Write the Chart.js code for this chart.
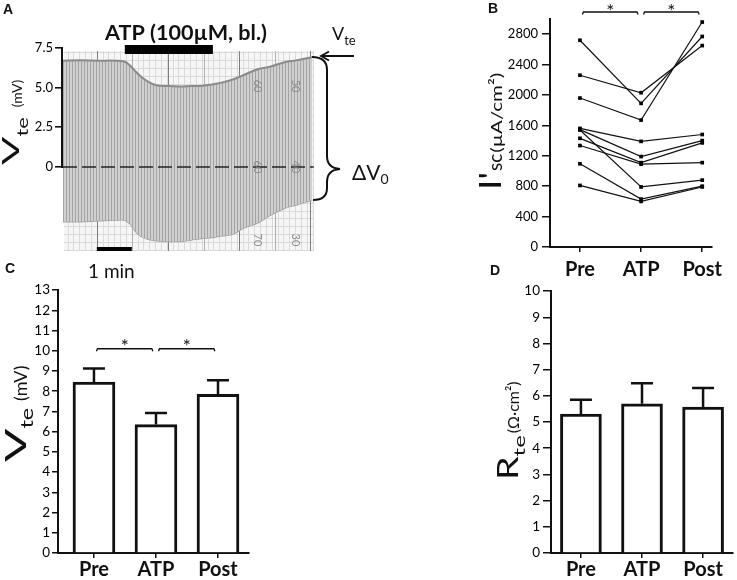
<!DOCTYPE html>
<html>
<head>
<meta charset="utf-8">
<title>ATP effect on Vte, I'sc and Rte</title>
<script src="https://cdn.jsdelivr.net/npm/chart.js@4.4.1/dist/chart.umd.min.js"></script>
<style>
    html, body { margin: 0; padding: 0; background: #fff; }
    #page { position: relative; width: 737px; height: 580px; overflow: hidden; }
    #page canvas { position: absolute; }
</style>
</head>
<body>
<div id="page">
    <canvas id="chartA" width="400" height="280" style="left:0;top:0"></canvas>
    <canvas id="chartB" width="337" height="280" style="left:400px;top:0"></canvas>
    <canvas id="chartC" width="370" height="300" style="left:0;top:280px"></canvas>
    <canvas id="chartD" width="337" height="300" style="left:400px;top:280px"></canvas>
</div>
<script>
// ---- data ----
// A: chart recorder trace, upper / lower envelope (time in s, mV)
const traceTime   = [0, 30, 60, 90, 105, 115, 125, 135, 145, 160, 180, 200, 220, 240, 255, 270, 290, 310, 335, 355, 380, 400, 427];
const traceTop    = [6.7, 6.72, 6.7, 6.7, 6.65, 6.4, 6.0, 5.65, 5.4, 5.15, 5.1, 5.08, 5.1, 5.12, 5.2, 5.3, 5.5, 5.8, 6.18, 6.32, 6.6, 6.72, 6.92];
const traceBottom = [-3.45, -3.45, -3.4, -3.35, -3.35, -3.6, -4.1, -4.4, -4.55, -4.65, -4.7, -4.7, -4.6, -4.5, -4.45, -4.35, -4.25, -3.85, -3.5, -3.05, -2.6, -2.4, -2.1];
const vteTicksA   = [0, 2.5, 5.0, 7.5];
const atpWindow   = [106, 257];   // s, black bar
const oneMinute   = [58, 118];    // s, scale bar

// B-D: groups
const groupLabels = ['Pre', 'ATP', 'Post'];
const sigPairs    = [[0, 1], [1, 2]];

// B: paired I'sc per tissue (µA/cm²)
const iscPre  = [2720, 2260, 1960, 1560, 1545, 1540, 1430, 1335, 1095, 810];
const iscAtp  = [1890, 2030, 1670, 1390, 1190, 790, 1110, 1090, 630, 600];
const iscPost = [2770, 2650, 2960, 1480, 1400, 880, 1370, 1110, 800, 790];

// C: Vte mean + SEM (mV)
const vteMean = [8.45, 6.35, 7.85];
const vteSem  = [0.67, 0.57, 0.69];

// D: Rte mean + SEM (Ω·cm²)
const rteMean = [5.3, 5.7, 5.57];
const rteSem  = [0.55, 0.78, 0.73];

const FONT = 'Lato, "Noto Sans", sans-serif';
const LETTER_FONT = 'bold 14px "Liberation Sans", Arial, sans-serif';
const INK = '#111';
Chart.defaults.font.family = FONT;
Chart.defaults.color = INK;

// ---- helpers ----
function vertTitle(ctx, x, y, parts) {
    // text reads bottom to top, baseline at x, starting at y
    ctx.save();
    ctx.translate(x, y);
    ctx.rotate(-Math.PI / 2);
    ctx.fillStyle = INK;
    ctx.textBaseline = 'alphabetic';
    ctx.textAlign = 'left';
    let pos = 0;
    parts.forEach(p => {
        ctx.font = p.font;
        const sx = p.sx || 1;
        const w = ctx.measureText(p.text).width;
        ctx.save();
        ctx.translate(pos, p.dy || 0);
        ctx.scale(sx, 1);
        ctx.fillText(p.text, 0, 0);
        ctx.restore();
        pos += w * sx + (p.gap || 0);
    });
    ctx.restore();
}

function label(ctx, text, x, y, font, align) {
    ctx.save();
    ctx.font = font;
    ctx.fillStyle = INK;
    ctx.textAlign = align || 'left';
    ctx.textBaseline = 'alphabetic';
    ctx.fillText(text, x, y);
    const w = ctx.measureText(text).width;
    ctx.restore();
    return w;
}

function star(ctx, cx, cy) {
    ctx.save();
    ctx.font = '19px ' + FONT;
    ctx.fillStyle = INK;
    ctx.textAlign = 'center';
    const m = ctx.measureText('*');
    ctx.fillText('*', cx, cy + (m.actualBoundingBoxAscent - m.actualBoundingBoxDescent) / 2);
    ctx.restore();
}

function brackets(ctx, xScale, yPix, starGap) {
    ctx.save();
    ctx.strokeStyle = INK;
    ctx.lineWidth = 1.3;
    sigPairs.forEach(([a, b]) => {
        const x1 = xScale.getPixelForValue(a + 0.04);
        const x2 = xScale.getPixelForValue(b - 0.05);
        ctx.beginPath();
        ctx.moveTo(x1, yPix + 2.5);
        ctx.lineTo(x1 + 1, yPix);
        ctx.lineTo(x2 - 1, yPix);
        ctx.lineTo(x2, yPix + 2.5);
        ctx.stroke();
        star(ctx, (x1 + x2) / 2, yPix - starGap);
    });
    ctx.restore();
}

function groupTicks(scale) {
    scale.ticks = groupLabels.map((_, i) => ({ value: i }));
}

// ---- panel A ----
const canvasA = document.getElementById('chartA');
const stripeTile = document.createElement('canvas');
stripeTile.width = 3; stripeTile.height = 4;
const tg = stripeTile.getContext('2d');
tg.fillStyle = '#d0d0d0'; tg.fillRect(0, 0, 3, 4);
tg.fillStyle = '#a4a4a4'; tg.fillRect(0, 0, 1, 4);
const stripes = canvasA.getContext('2d').createPattern(stripeTile, 'repeat');

const paperPlugin = {
    id: 'paper',
    beforeDatasetsDraw(chart) {
        const { ctx, chartArea: a, scales: { x, y } } = chart;
        const left = a.left + 1, right = x.getPixelForValue(430);
        const top = y.getPixelForValue(7.3), bottom = a.bottom;
        ctx.save();
        ctx.fillStyle = '#f6f6f6';
        ctx.fillRect(left, top, right - left, bottom - top);
        ctx.strokeStyle = '#dadada';
        ctx.lineWidth = 1;
        ctx.beginPath();
        for (let v = -5.25; v <= 7.3; v += 0.5) {
            const py = Math.round(y.getPixelForValue(v)) + 0.5;
            ctx.moveTo(left, py); ctx.lineTo(right, py);
        }
        for (let t = 8; t < 430; t += 10) {
            const px = Math.round(x.getPixelForValue(t)) + 0.5;
            ctx.moveTo(px, top); ctx.lineTo(px, bottom);
        }
        ctx.stroke();
        for (let k = 0; k < 7; k++) {
            const px = Math.round(x.getPixelForValue(58 + 61 * k)) + 0.5;
            ctx.strokeStyle = k % 2 === 0 ? '#7c7c7c' : '#b0b0b0';
            ctx.beginPath(); ctx.moveTo(px, top); ctx.lineTo(px, bottom); ctx.stroke();
        }
        ctx.restore();
    }
};

const recorderPlugin = {
    id: 'recorder',
    afterDatasetsDraw(chart) {
        const { ctx, chartArea: a, scales: { x, y } } = chart;
        const y0 = y.getPixelForValue(0);
        const right = x.getPixelForValue(430);
        ctx.save();

        // zero line
        ctx.strokeStyle = '#222';
        ctx.lineWidth = 1.5;
        ctx.setLineDash([14, 5]);
        ctx.beginPath(); ctx.moveTo(a.left, y0); ctx.lineTo(right, y0); ctx.stroke();
        ctx.setLineDash([]);

        // numbers printed on the recorder paper
        ctx.fillStyle = '#8a8a8a';
        ctx.font = '11px ' + FONT;
        ctx.textAlign = 'center';
        ctx.textBaseline = 'middle';
        [['60', 333, 5.1], ['50', 398, 5.1], ['60', 333, 0], ['40', 398, 0], ['70', 333, -4.6], ['30', 398, -4.6]].forEach(([t, tv, vv]) => {
            ctx.save();
            ctx.translate(x.getPixelForValue(tv), y.getPixelForValue(vv));
            ctx.rotate(Math.PI / 2);
            ctx.fillText(t, 0, 0);
            ctx.restore();
        });

        // y axis line from 0 to 7.5 only
        ctx.strokeStyle = INK;
        ctx.lineWidth = 2;
        ctx.beginPath();
        ctx.moveTo(a.left - 1, y.getPixelForValue(7.5));
        ctx.lineTo(a.left - 1, y0 + 1);
        ctx.stroke();

        // ATP application bar + label
        const ax1 = x.getPixelForValue(atpWindow[0]), ax2 = x.getPixelForValue(atpWindow[1]);
        ctx.fillStyle = '#000';
        ctx.fillRect(ax1, 45, ax2 - ax1, 9);
        ctx.font = 'bold 21px ' + FONT;
        const txt = 'ATP (100\u00b5M, bl.)';
        const sx = 162 / ctx.measureText(txt).width;
        ctx.save();
        ctx.translate(186, 40);
        ctx.scale(sx, 1);
        ctx.fillStyle = INK;
        ctx.textAlign = 'center';
        ctx.textBaseline = 'alphabetic';
        ctx.fillText(txt, 0, 0);
        ctx.restore();

        // 1 min scale bar
        const sx1 = x.getPixelForValue(oneMinute[0]), sx2 = x.getPixelForValue(oneMinute[1]);
        ctx.fillStyle = '#000';
        ctx.fillRect(sx1, 247, sx2 - sx1, 4);
        label(ctx, '1 min', 88, 278, '19px ' + FONT);

        // Vte arrow
        const vw = label(ctx, 'V', 332, 40, '18px ' + FONT);
        label(ctx, 'te', 332 + vw, 45, '13px ' + FONT);
        ctx.strokeStyle = INK;
        ctx.lineWidth = 1.8;
        ctx.beginPath();
        ctx.moveTo(354, 56); ctx.lineTo(321, 56);
        ctx.moveTo(329, 51.5); ctx.lineTo(321, 56); ctx.lineTo(329, 60.5);
        ctx.stroke();

        // brace for delta V0
        ctx.lineWidth = 2;
        ctx.beginPath();
        ctx.moveTo(312, 57);
        ctx.quadraticCurveTo(327, 57, 327, 70);
        ctx.lineTo(327, 156);
        ctx.quadraticCurveTo(327, 168, 340, 169);
        ctx.quadraticCurveTo(327, 170, 327, 182);
        ctx.lineTo(327, 188);
        ctx.quadraticCurveTo(327, 200, 313, 200);
        ctx.stroke();
        const dw = label(ctx, '\u0394V', 352, 180, '21px ' + FONT);
        label(ctx, '0', 352 + dw, 184, '14px ' + FONT);

        // axis title + panel letters
        vertTitle(ctx, 19, 165, [
            { text: 'V', font: '24px ' + FONT, sx: 1.75 },
            { text: 'te', font: '15px ' + FONT, dy: 9, sx: 1.45, gap: 10 },
            { text: '(mV)', font: '14px ' + FONT, dy: 3 }
        ]);
        label(ctx, 'A', 3, 14, LETTER_FONT);
        label(ctx, 'C', 5, 273, LETTER_FONT);
        ctx.restore();
    }
};

new Chart(canvasA, {
    type: 'line',
    data: {
        datasets: [{
            data: traceTime.map((t, i) => ({ x: t, y: traceTop[i] })),
            borderColor: '#8a8a8a',
            borderWidth: 2,
            backgroundColor: stripes,
            fill: '+1',
            pointRadius: 0,
            tension: 0.35
        }, {
            data: traceTime.map((t, i) => ({ x: t, y: traceBottom[i] })),
            borderColor: '#a2a2a2',
            borderWidth: 1.5,
            fill: false,
            pointRadius: 0,
            tension: 0.35
        }]
    },
    options: {
        responsive: false,
        animation: false,
        layout: { padding: { top: 48, right: 88, bottom: 29, left: 0 } },
        plugins: { legend: { display: false }, tooltip: { enabled: false } },
        scales: {
            x: { type: 'linear', min: 0, max: 427, display: false },
            y: {
                min: -5.3,
                max: 7.5,
                afterBuildTicks: s => { s.ticks = vteTicksA.map(v => ({ value: v })); },
                afterFit: s => { s.width = 63; },
                ticks: { callback: v => (v === 0 ? '0' : v.toFixed(1)), font: { size: 13 }, color: '#000', padding: 2 },
                grid: { drawOnChartArea: false, tickLength: 8, color: INK, lineWidth: 1.6 },
                border: { display: false }
            }
        }
    },
    plugins: [paperPlugin, recorderPlugin]
});

// ---- panel B ----
new Chart(document.getElementById('chartB'), {
    type: 'line',
    data: {
        datasets: iscPre.map((p, i) => ({
            data: [{ x: 0, y: p }, { x: 1, y: iscAtp[i] }, { x: 2, y: iscPost[i] }],
            borderColor: '#111',
            borderWidth: 1.2,
            pointStyle: 'rect',
            pointRadius: 2.6,
            pointBackgroundColor: '#000',
            pointBorderWidth: 0,
            tension: 0,
            clip: 8
        }))
    },
    options: {
        responsive: false,
        animation: false,
        layout: { padding: { top: 19, right: 25, bottom: 0, left: 0 } },
        plugins: { legend: { display: false }, tooltip: { enabled: false } },
        scales: {
            x: {
                type: 'linear', min: -0.49, max: 2.16, offset: false,
                afterBuildTicks: groupTicks,
                afterFit: s => { s.height = 33; },
                ticks: { callback: v => groupLabels[v], font: { size: 20, weight: 'bold' }, color: INK, padding: 6, maxRotation: 0, autoSkip: false },
                grid: { drawOnChartArea: false, tickLength: 5, color: INK, lineWidth: 1.5 },
                border: { color: INK, width: 2 }
            },
            y: {
                min: 0, max: 3000,
                afterBuildTicks: s => { s.ticks = s.ticks.filter(t => t.value <= 2800); },
                afterFit: s => { s.width = 150; },
                ticks: { stepSize: 400, callback: v => String(v), font: { size: 13 }, color: '#000', padding: 4 },
                grid: { drawOnChartArea: false, tickLength: 8, color: INK, lineWidth: 1.5 },
                border: { color: INK, width: 2 }
            }
        }
    },
    plugins: [{
        id: 'decorB',
        afterDraw(chart) {
            const { ctx, chartArea: a, scales: { x } } = chart;
            brackets(ctx, x, a.top - 7, 5);
            vertTitle(ctx, 101, 190, [
                { text: "I'", font: '31px ' + FONT, sx: 1.2, gap: 1 },
                { text: 'sc', font: '19px ' + FONT, dy: 1, gap: 1 },
                { text: '(\u00b5A/cm\u00b2)', font: '16px ' + FONT, dy: 1, sx: 1.28 }
            ]);
            label(ctx, 'B', 88, 13, LETTER_FONT);
            label(ctx, 'D', 90, 275, LETTER_FONT);
        }
    }]
});

// ---- panels C and D: bar + SEM ----
const errorBarPlugin = {
    id: 'errorBars',
    afterDatasetsDraw(chart, args, opts) {
        const { ctx } = chart;
        const y = chart.scales.y;
        const meta = chart.getDatasetMeta(0);
        ctx.save();
        ctx.strokeStyle = INK;
        ctx.lineWidth = 2.5;
        meta.data.forEach((bar, i) => {
            const top = y.getPixelForValue(opts.mean[i] + opts.err[i]);
            ctx.beginPath();
            ctx.moveTo(bar.x, bar.y);
            ctx.lineTo(bar.x, top);
            ctx.moveTo(bar.x - opts.cap, top);
            ctx.lineTo(bar.x + opts.cap, top);
            ctx.stroke();
        });
        ctx.restore();
    }
};

function barChart(id, mean, err, cfg) {
    return new Chart(document.getElementById(id), {
        type: 'bar',
        data: {
            datasets: [{
                data: mean.map((v, i) => ({ x: i, y: v })),
                backgroundColor: '#fff',
                borderColor: INK,
                borderWidth: 3,
                barThickness: cfg.barWidth
            }]
        },
        options: {
            responsive: false,
            animation: false,
            layout: { padding: { top: cfg.top, right: cfg.right, bottom: 0, left: 0 } },
            plugins: {
                legend: { display: false },
                tooltip: { enabled: false },
                errorBars: { mean: mean, err: err, cap: 11 }
            },
            scales: {
                x: {
                    type: 'linear', min: cfg.xMin, max: cfg.xMax, offset: false,
                    afterBuildTicks: groupTicks,
                    afterFit: s => { s.height = cfg.xHeight; },
                    ticks: { callback: v => groupLabels[v], font: { size: 20, weight: 'bold' }, color: INK, padding: 0, maxRotation: 0, autoSkip: false },
                    grid: { drawOnChartArea: false, offset: false, tickLength: 5, color: INK, lineWidth: 1.5 },
                    border: { color: INK, width: 2 }
                },
                y: {
                    min: 0, max: cfg.yMax,
                    afterFit: s => { s.width = cfg.yWidth; },
                    ticks: { stepSize: 1, font: { size: 13.5 }, color: '#000', padding: cfg.tickPad },
                    grid: { drawOnChartArea: false, tickLength: cfg.tickLen, color: INK, lineWidth: 1.5 },
                    border: { color: INK, width: 2 }
                }
            }
        },
        plugins: [errorBarPlugin, { id: id + 'Decor', afterDraw: cfg.decor }]
    });
}

barChart('chartC', vteMean, vteSem, {
    barWidth: 42, top: 5, right: 121, xMin: -0.58, xMax: 2.5, xHeight: 27, yMax: 13, yWidth: 58, tickPad: 2, tickLen: 6,
    decor(chart) {
        const { ctx, scales: { x, y } } = chart;
        brackets(ctx, x, y.getPixelForValue(10.1), 6);
        vertTitle(ctx, 26, 182, [
            { text: 'V', font: '29px ' + FONT, sx: 1.7 },
            { text: 'te', font: '18px ' + FONT, dy: 7, sx: 1.3, gap: 7 },
            { text: '(mV)', font: '18px ' + FONT, dy: 1 }
        ]);
    }
});

barChart('chartD', rteMean, rteSem, {
    barWidth: 41, top: 4, right: 4, xMin: -0.49, xMax: 2.49, xHeight: 27, yMax: 10, yWidth: 151, tickPad: 3, tickLen: 8,
    decor(chart) {
        vertTitle(chart.ctx, 118, 200, [
            { text: 'R', font: '29px ' + FONT, sx: 1.3 },
            { text: 'te', font: '16px ' + FONT, dy: 7, sx: 1.5, gap: 2 },
            { text: '(\u03a9\u00b7cm\u00b2)', font: '16px ' + FONT, dy: 1 }
        ]);
    }
});
</script>
</body>
</html>
